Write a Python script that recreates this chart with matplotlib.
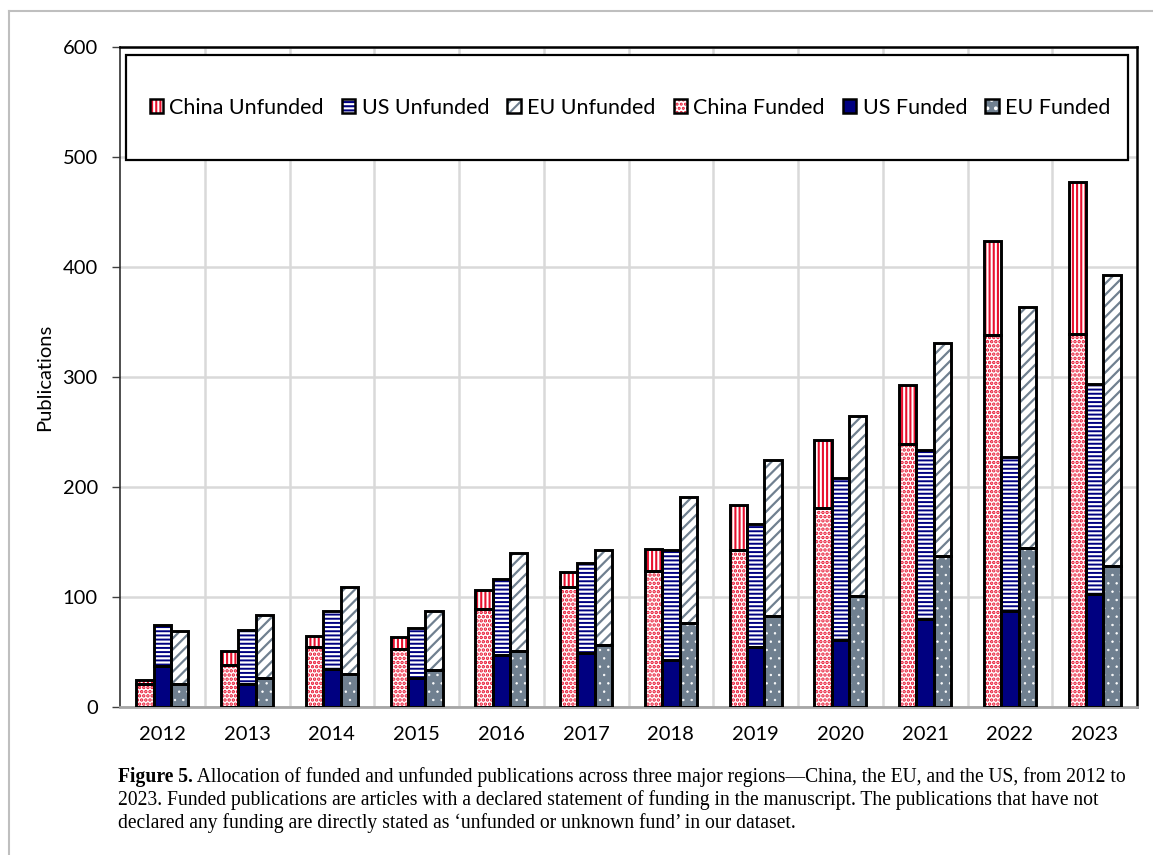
import matplotlib
matplotlib.use("Agg")
import numpy as np
import matplotlib.pyplot as plt
from matplotlib.patches import Patch, Rectangle
from matplotlib.lines import Line2D
from matplotlib.legend_handler import HandlerTuple

years = ["2012", "2013", "2014", "2015", "2016", "2017",
         "2018", "2019", "2020", "2021", "2022", "2023"]

china_funded = [21, 38, 55, 53, 89, 109, 124, 143, 181, 239, 338, 339]
china_unfunded = [4, 13, 10, 11, 17, 14, 20, 41, 62, 54, 86, 138]
us_funded = [37, 21, 35, 26, 47, 49, 43, 55, 61, 80, 87, 103]
us_unfunded = [38, 49, 52, 46, 69, 82, 100, 111, 147, 154, 140, 191]
eu_funded = [21, 26, 30, 34, 51, 56, 76, 83, 101, 137, 145, 128]
eu_unfunded = [48, 58, 79, 53, 89, 87, 115, 142, 164, 194, 219, 265]

RED = "#e8102e"
NAVY = "#000080"
SLATE = "#708090"

plt.rcParams["font.family"] = ["Lato", "DejaVu Sans"]
plt.rcParams["hatch.linewidth"] = 1.5

W, H = 1153, 855
fig = plt.figure(figsize=(W / 100, H / 100), dpi=100)
ax = fig.add_axes([120 / W, 1 - 707 / H, (1137 - 120) / W, (707 - 47) / H])

x = np.arange(len(years))
width = 0.205

# (face, pattern colour, hatch, hatch linewidth) for each segment style
styles = {
    "China Funded": ("white", RED, "....", 1.7),
    "China Unfunded": ("white", RED, "||||", 1.5),
    "US Funded": (NAVY, NAVY, None, 1.0),
    "US Unfunded": ("white", NAVY, "----", 1.4),
    "EU Funded": (SLATE, "white", "..", 0.5),
    "EU Unfunded": ("white", SLATE, "///", 1.6),
}


def set_hlw(artists, lw):
    for a in artists:
        if hasattr(a, "set_hatch_linewidth"):
            a.set_hatch_linewidth(lw)


def seg(xpos, h, bottom, key):
    face, hcol, hatch, hlw = styles[key]
    bars = ax.bar(xpos, h, width, bottom=bottom, color=face, edgecolor=hcol,
                  hatch=hatch, linewidth=0, zorder=2)
    set_hlw(bars, hlw)
    ax.bar(xpos, h, width, bottom=bottom, fill=False, edgecolor="black",
           linewidth=2.1, zorder=3)


seg(x - width, china_funded, 0, "China Funded")
seg(x - width, china_unfunded, china_funded, "China Unfunded")
seg(x, us_funded, 0, "US Funded")
seg(x, us_unfunded, us_funded, "US Unfunded")
seg(x + width, eu_funded, 0, "EU Funded")
seg(x + width, eu_unfunded, eu_funded, "EU Unfunded")

ax.set_xlim(-0.5, len(years) - 0.5)
ax.set_ylim(0, 600)
ax.set_yticks(range(0, 601, 100))
ax.set_xticks(x)
ax.set_xticklabels(years)
ax.set_xticks(x[:-1] + 0.5, minor=True)
ax.tick_params(axis="x", which="both", length=0, pad=14, labelsize=14.5)
ax.tick_params(axis="y", length=6, width=1, color="#404040", pad=10, labelsize=14.5)
ax.grid(axis="y", color="#d9d9d9", linewidth=1.8, zorder=0)
ax.grid(axis="x", which="minor", color="#d9d9d9", linewidth=1.8, zorder=0)
ax.set_axisbelow(True)
ax.set_ylabel("Publications", fontsize=14.5, labelpad=7)

for side in ["top", "right"]:
    ax.spines[side].set_color("black")
    ax.spines[side].set_linewidth(1.8)
ax.spines["left"].set_color("#303030")
ax.spines["left"].set_linewidth(1.2)
ax.spines["bottom"].set_color("#a6a6a6")
ax.spines["bottom"].set_linewidth(2)

# legend box
ax.add_patch(Rectangle(((126 - 120) / 1017, (707 - 160) / 660),
                       (1128 - 126) / 1017, (160 - 55) / 660,
                       transform=ax.transAxes, facecolor="white",
                       edgecolor="black", linewidth=1.6, zorder=4,
                       clip_on=False))

order = ["China Unfunded", "US Unfunded", "EU Unfunded",
         "China Funded", "US Funded", "EU Funded"]
handles = []
for key in order:
    face, hcol, hatch, hlw = styles[key]
    p1 = Patch(facecolor=face, edgecolor=hcol, hatch=hatch, linewidth=0)
    set_hlw([p1], hlw)
    p2 = Patch(fill=False, edgecolor="black", linewidth=1.8)
    handles.append((p1, p2))
leg = ax.legend(handles, order, handler_map={tuple: HandlerTuple(ndivide=1, pad=0)},
                ncol=6, frameon=False, loc="center",
                bbox_to_anchor=((148 + 1112) / 2 / W, 1 - 108 / H),
                bbox_transform=fig.transFigure, fontsize=15.5,
                handlelength=0.62, handleheight=0.62, handletextpad=0.3,
                columnspacing=0.84, borderaxespad=0, borderpad=0)
leg.set_zorder(5)

# figure frame lines (left and top)
fig.add_artist(Line2D([9 / W, 9 / W], [0, 1 - 11 / H], transform=fig.transFigure,
                      color="#bfbfbf", linewidth=1.5))
fig.add_artist(Line2D([9 / W, 1], [1 - 11 / H, 1 - 11 / H], transform=fig.transFigure,
                      color="#bfbfbf", linewidth=1.5))

# caption
serif = ["Liberation Serif", "DejaVu Serif"]
line1 = ("Allocation of funded and unfunded publications across three major "
         "regions\u2014China, the EU, and the US, from 2012 to")
line2 = ("2023. Funded publications are articles with a declared statement of "
         "funding in the manuscript. The publications that have not")
line3 = ("declared any funding are directly stated as \u2018unfunded or unknown "
         "fund\u2019 in our dataset.")

renderer = fig.canvas.get_renderer()
size = 13
t0 = fig.text(118 / W, 1 - 782 / H, "Figure 5.", family=serif, fontweight="bold",
              fontsize=size, va="baseline")
t1 = fig.text(0, 1 - 782 / H, " " + line1, family=serif, fontsize=size, va="baseline")
w_total = (t0.get_window_extent(renderer).width
           + t1.get_window_extent(renderer).width)
size = size * 1006 / w_total
t0.set_fontsize(size)
t1.set_fontsize(size)
x_after = t0.get_window_extent(renderer).x1
t1.set_x(x_after / W)
fig.text(118 / W, 1 - 805 / H, line2, family=serif, fontsize=size, va="baseline")
fig.text(118 / W, 1 - 828 / H, line3, family=serif, fontsize=size, va="baseline")

fig.savefig("out.png", dpi=100)
